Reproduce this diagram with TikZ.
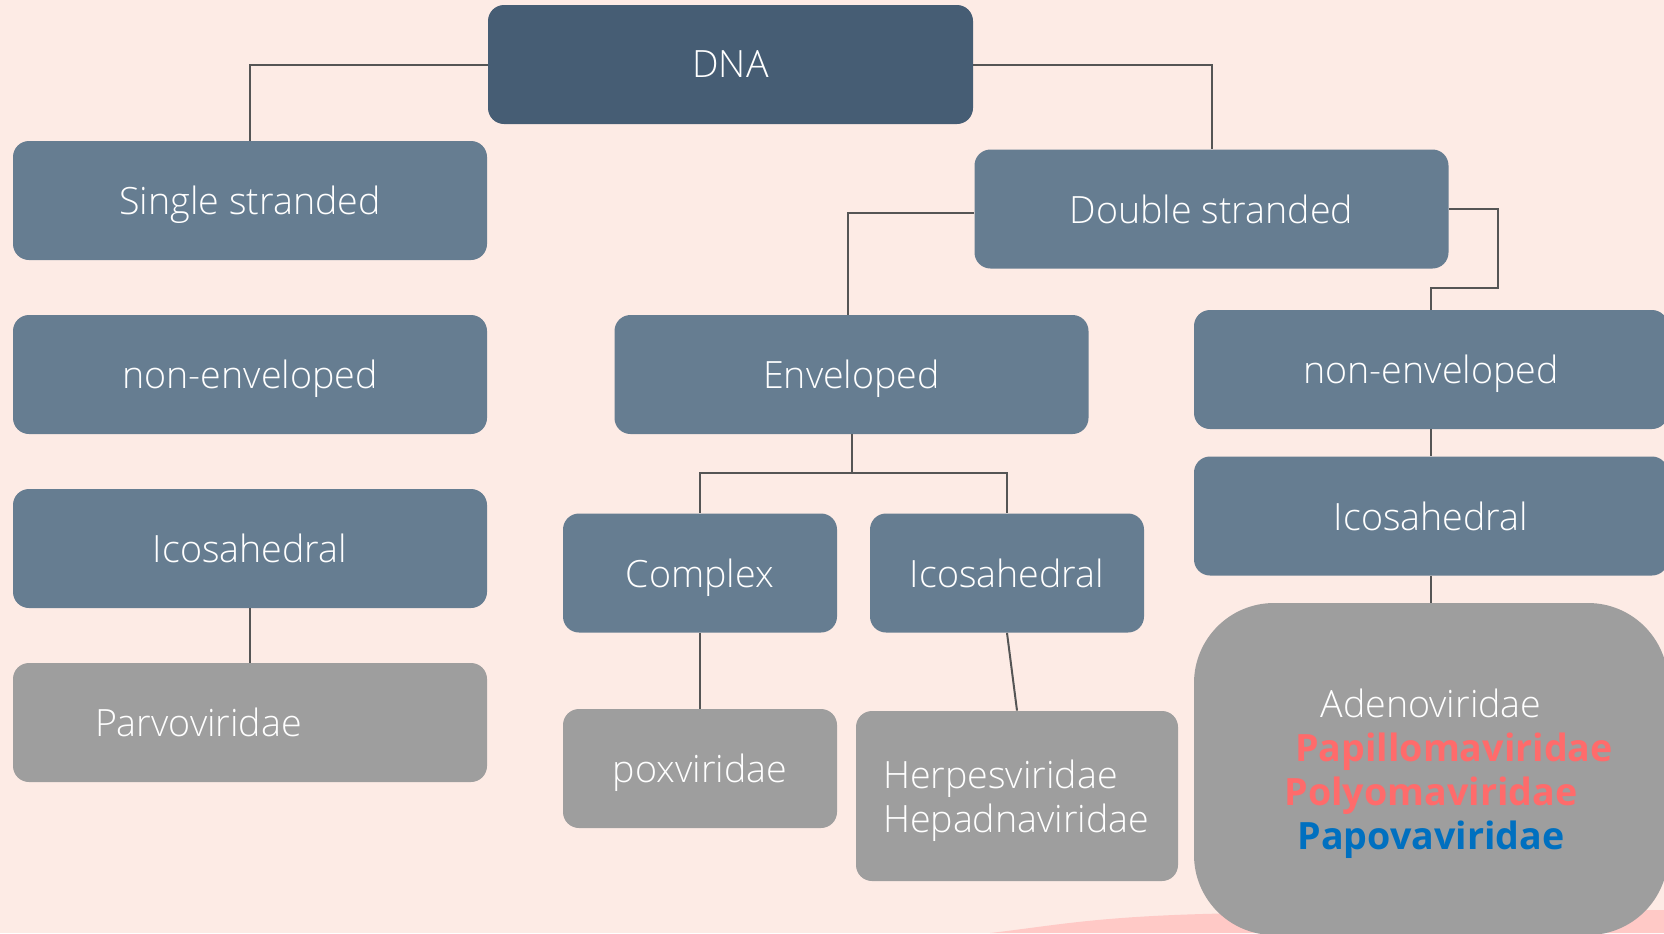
\documentclass[tikz,border=0pt]{standalone}
\usepackage{fontspec}
\setmainfont{Open Sans}[UprightFont=* Light, BoldFont=* Bold]
\usepackage{xcolor}
\definecolor{bgpink}{HTML}{FDEBE5}
\definecolor{blobpink}{HTML}{FFC9C6}
\definecolor{dnablue}{HTML}{465D74}
\definecolor{boxblue}{HTML}{667D91}
\definecolor{leafgray}{HTML}{9E9E9E}
\definecolor{linegray}{HTML}{555555}
\definecolor{papred}{HTML}{FF6B6B}
\definecolor{papblue}{HTML}{0070C0}
\tikzstyle{boxbase} = [rectangle, rounded corners=8pt, fill=boxblue, text=white, minimum width=237pt, minimum height=59.5pt, inner sep=0pt, font=\fontsize{18.8}{22}\selectfont]
\tikzstyle{midbox} = [boxbase, text depth=0pt]
\tikzstyle{topbox} = [midbox, fill=dnablue, minimum width=242.5pt]
\tikzstyle{smallbox} = [midbox, minimum width=137pt]
\tikzstyle{leafbox} = [midbox, fill=leafgray]
\tikzstyle{listbox} = [boxbase, fill=leafgray]
\tikzstyle{link} = [draw=linegray, line width=1pt]

\begin{document}
\begin{tikzpicture}[x=0.5pt,y=-0.5pt]
	\fill[bgpink] (0,0) rectangle (1664,933);
	\useasboundingbox (0,0) rectangle (1664,933);
	\fill[blobpink] (990,933) .. controls (1060,925) and (1100,915) .. (1250,913) -- (1664,910) -- (1664,933) -- cycle;
	% top level
	\node[topbox] (dna) at (730.5,64.5) {DNA};
	\node[midbox] (single) at (250,200.5) {Single stranded};
	\node[midbox] (dbl) at (1211.5,209) {Double stranded};
	% single stranded column
	\node[midbox] (nonenvL) at (250,374.5) {non-enveloped};
	\node[midbox] (icosaL) at (250,548.5) {Icosahedral};
	\node[leafbox, text width=155pt, inner xsep=41pt, align=left] (parvo) at (250,722.5) {Parvoviridae};
	% enveloped
	\node[midbox] (env) at (851.5,374.5) {Enveloped};
	\node[smallbox] (complex) at (700,573) {Complex};
	\node[smallbox] (icosaM) at (1007,573) {Icosahedral};
	\node[leafbox, minimum width=137pt] (pox) at (700,768.5) {poxviridae};
	\node[listbox, minimum width=161pt, minimum height=85pt, text width=134pt, inner xsep=13.5pt, align=left] (herpes) at (1017,796) {\rule{0pt}{18.5pt}Herpesviridae\\Hepadnaviridae};
	% non-enveloped
	\node[midbox] (nonenvR) at (1431,369.5) {non-enveloped};
	\node[midbox] (icosaR) at (1431,516) {Icosahedral};
	\node[listbox, minimum height=166pt, rounded corners=40pt, align=center] (adeno) at (1431,769) {\rule{0pt}{18.5pt}Adenoviridae\\\hspace*{23pt}\textbf{\color{papred}Papillomaviridae}\\\textbf{\color{papred}Polyomaviridae}\\\textbf{\color{papblue}Papovaviridae}};
	% connectors
	\coordinate (bendR) at (1498,288);
	\coordinate (split) at (851.5,473);
	\draw[link] (dna.west) -| (single.north);
	\draw[link] (dna.east) -| (dbl.north);
	\draw[link] ([yshift=-2pt]dbl.west) -| ([xshift=-2pt]env.north);
	\draw[link] (dbl.east) -| (bendR) -| (nonenvR.north);
	\draw[link] (icosaL.south) -- (parvo.north);
	\draw[link] (env.south) -- (split);
	\draw[link] (split) -| (complex.north);
	\draw[link] (split) -| (icosaM.north);
	\draw[link] (complex.south) -- (pox.north);
	\draw[link] (icosaM.south) -- (herpes.north);
	\draw[link] (nonenvR.south) -- (icosaR.north);
	\draw[link] (icosaR.south) -- (adeno.north);
\end{tikzpicture}
\end{document}
